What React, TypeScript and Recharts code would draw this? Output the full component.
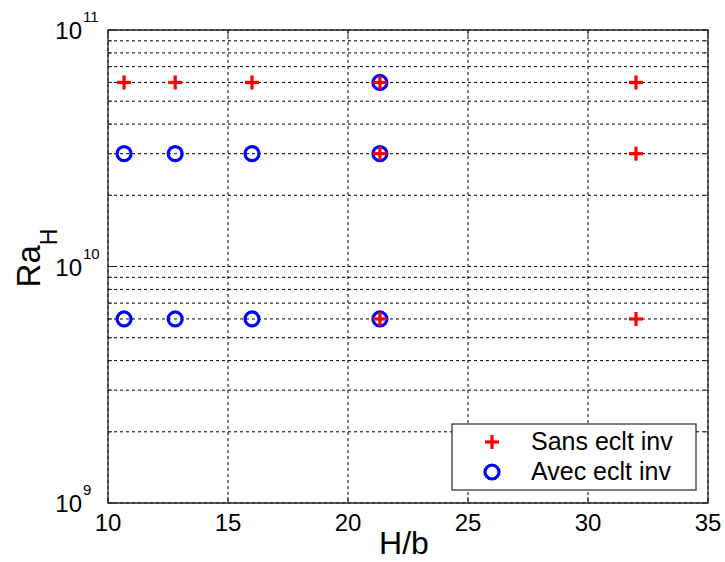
import React from "react"
import { ScatterChart, Scatter, XAxis, YAxis, CartesianGrid, ReferenceArea } from "recharts"

// H/b positions and Ra_H levels
const sansHb = [10.67, 12.8, 16, 21.33, 32, 21.33, 32, 21.33, 32]
const sansRa = [6e10, 6e10, 6e10, 6e10, 6e10, 3e10, 3e10, 6e9, 6e9]
const avecHb = [21.33, 10.67, 12.8, 16, 21.33, 10.67, 12.8, 16, 21.33]
const avecRa = [6e10, 3e10, 3e10, 3e10, 3e10, 6e9, 6e9, 6e9, 6e9]

const xTicks = [10, 15, 20, 25, 30, 35]
const yTicks = [
  1e9, 2e9, 3e9, 4e9, 5e9, 6e9, 7e9, 8e9, 9e9,
  1e10, 2e10, 3e10, 4e10, 5e10, 6e10, 7e10, 8e10, 9e10,
  1e11,
]
const seriesNames = ["Sans eclt inv", "Avec eclt inv"]

const W = 725
const H = 562
const MARGIN = { top: 30, right: 17, left: 0, bottom: 0 }
const Y_AXIS_W = 108
const X_AXIS_H = 59
const PLOT_LEFT = MARGIN.left + Y_AXIS_W
const PLOT_RIGHT = W - MARGIN.right
const PLOT_TOP = MARGIN.top
const PLOT_BOTTOM = H - MARGIN.bottom - X_AXIS_H

const FONT = "'Liberation Sans', Arial, sans-serif"
const FRAME = "#262626"
const RED = "#ff0000"
const BLUE = "#0000ff"

const sansData = sansHb.map((x, i) => ({ x, y: sansRa[i] }))
const avecData = avecHb.map((x, i) => ({ x, y: avecRa[i] }))

function PlusMark({ cx, cy }: { cx: number; cy: number }) {
  return (
    <g stroke={RED} strokeWidth={3.2}>
      <line x1={cx - 7} y1={cy} x2={cx + 7} y2={cy} />
      <line x1={cx} y1={cy - 7} x2={cx} y2={cy + 7} />
    </g>
  )
}

function CircleMark({ cx, cy }: { cx: number; cy: number }) {
  return <circle cx={cx} cy={cy} r={7} fill="none" stroke={BLUE} strokeWidth={3.2} />
}

function XTick(props: any) {
  const { x, payload } = props
  const len = 6
  return (
    <g>
      <line x1={x} y1={PLOT_BOTTOM} x2={x} y2={PLOT_BOTTOM - len} stroke={FRAME} />
      <line x1={x} y1={PLOT_TOP} x2={x} y2={PLOT_TOP + len} stroke={FRAME} />
      <text x={x} y={PLOT_BOTTOM + 28} textAnchor="middle" fontSize={24} fontFamily={FONT} fill="#000">
        {payload.value}
      </text>
    </g>
  )
}

function YTick(props: any) {
  const { y, payload } = props
  const v = payload.value
  const exp = Math.round(Math.log10(v))
  const major = Math.abs(v / Math.pow(10, exp) - 1) < 1e-6
  const len = major ? 6 : 4
  return (
    <g>
      <line x1={PLOT_LEFT} y1={y} x2={PLOT_LEFT + len} y2={y} stroke={FRAME} />
      <line x1={PLOT_RIGHT} y1={y} x2={PLOT_RIGHT - len} y2={y} stroke={FRAME} />
      {major && (
        <g fontFamily={FONT} fill="#000">
          <text x={PLOT_LEFT - 26} y={y + 9} textAnchor="end" fontSize={24}>
            10
          </text>
          <text x={PLOT_LEFT - 25} y={y - 8} textAnchor="start" fontSize={15}>
            {exp}
          </text>
        </g>
      )}
    </g>
  )
}

function XLabel(props: any) {
  const { viewBox } = props
  return (
    <text
      x={viewBox.x + viewBox.width / 2 - 4}
      y={viewBox.y + 51}
      textAnchor="middle"
      fontSize={32}
      fontFamily={FONT}
      fill="#000"
    >
      H/b
    </text>
  )
}

function YLabel() {
  const cx = 40
  const cy = 258
  return (
    <text
      x={cx}
      y={cy}
      transform={`rotate(-90, ${cx}, ${cy})`}
      textAnchor="middle"
      fontFamily={FONT}
      fill="#000"
      fontSize={33}
    >
      Ra
      <tspan fontSize={23} dy={17}>
        H
      </tspan>
    </text>
  )
}

function LegendBox() {
  return (
    <svg
      width={246}
      height={68}
      style={{ position: "absolute", left: 451, top: 423 }}
    >
      <rect x={1} y={1} width={244} height={66} fill="#fff" stroke={FRAME} strokeWidth={1.2} />
      <PlusMark cx={41} cy={19} />
      <CircleMark cx={41} cy={49} />
      <text x={80} y={27} fontSize={25} fontFamily={FONT} fill="#000">
        {seriesNames[0]}
      </text>
      <text x={80} y={57} fontSize={25} fontFamily={FONT} fill="#000">
        {seriesNames[1]}
      </text>
    </svg>
  )
}

export default function App() {
  return (
    <div style={{ position: "absolute", left: 0, top: 0, width: W, height: H, background: "#fff" }}>
      <ScatterChart width={W} height={H} margin={MARGIN}>
        <CartesianGrid stroke="#000" strokeDasharray="3 3" fill="#fff" />
        <XAxis
          type="number"
          dataKey="x"
          domain={[10, 35]}
          ticks={xTicks}
          height={X_AXIS_H}
          axisLine={false}
          tickLine={false}
          tick={<XTick />}
          label={<XLabel />}
          allowDataOverflow
        />
        <YAxis
          type="number"
          dataKey="y"
          scale="log"
          domain={[1e9, 1e11]}
          ticks={yTicks}
          width={Y_AXIS_W}
          axisLine={false}
          tickLine={false}
          tick={<YTick />}
          interval={0}
          allowDataOverflow
        />
        <ReferenceArea x1={10} x2={35} y1={1e9} y2={1e11} fill="none" stroke={FRAME} strokeWidth={1.3} />
        <Scatter
          name={seriesNames[1]}
          data={avecData}
          isAnimationActive={false}
          shape={(p: any) => <CircleMark cx={p.cx} cy={p.cy} />}
        />
        <Scatter
          name={seriesNames[0]}
          data={sansData}
          isAnimationActive={false}
          shape={(p: any) => <PlusMark cx={p.cx} cy={p.cy} />}
        />
      </ScatterChart>
      <svg width={W} height={H} style={{ position: "absolute", left: 0, top: 0, pointerEvents: "none" }}>
        <YLabel />
      </svg>
      <LegendBox />
    </div>
  )
}
